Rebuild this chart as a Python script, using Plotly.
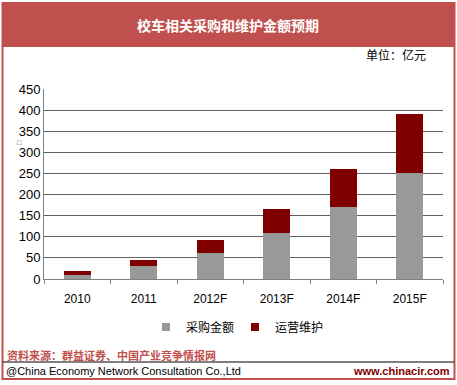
import plotly.graph_objects as go

categories = ["2010", "2011", "2012F", "2013F", "2014F", "2015F"]
purchase = [9, 30, 62, 110, 170, 250]
maintenance = [10, 15, 30, 55, 90, 140]
series_names = ["采购金额", "运营维护"]
series_colors = ["#999999", "#800000"]
y_ticks = [0, 50, 100, 150, 200, 250, 300, 350, 400, 450]

W, H = 457, 385
def px(x):
    return x / W
def py(y):
    return 1 - y / H

RED = "#C0504D"
CJK = "Noto Sans CJK SC"
LAT = "Liberation Sans, Arial"

fig = go.Figure()
for vals, name, col in zip([purchase, maintenance], series_names, series_colors):
    fig.add_trace(go.Bar(x=categories, y=vals, name=name, showlegend=False,
                         marker=dict(color=col, line=dict(width=0)), width=0.4))
# legend entries with small square symbols
for name, col in zip(series_names, series_colors):
    fig.add_trace(go.Scatter(x=[None], y=[None], mode="markers", name=name,
                             marker=dict(symbol="square", size=8, color=col)))

def ann(text, x, y, size, color, family, xanchor="center"):
    return dict(text=text, xref="paper", yref="paper", x=px(x), y=py(y),
                xanchor=xanchor, yanchor="middle", showarrow=False,
                font=dict(family=family, size=size, color=color))

fig.update_layout(
    width=W, height=H,
    barmode="stack",
    margin=dict(l=0, r=0, t=0, b=0),
    paper_bgcolor="white", plot_bgcolor="white",
    font=dict(family=LAT, size=12, color="#000000"),
    xaxis=dict(domain=[px(44), px(443)], automargin=False,
               showline=True, linecolor="#808080", linewidth=1,
               ticks="outside", tickson="boundaries", ticklen=4, tickcolor="#808080",
               tickfont=dict(family=LAT, size=12, color="#000"), showgrid=False,
               ticklabelstandoff=9),
    yaxis=dict(domain=[py(279), py(89)], automargin=False, range=[0, 450],
               tickvals=y_ticks, showline=True, linecolor="#808080", linewidth=1,
               gridcolor="#606060", gridwidth=1, zeroline=False,
               tickfont=dict(family=LAT, size=13, color="#000"), ticks="", ticklen=0),
    showlegend=True,
    legend=dict(orientation="h", x=px(146), y=py(327), xanchor="left", yanchor="middle",
                font=dict(family=CJK, size=12, color="#000"), traceorder="normal",
                entrywidth=44, entrywidthmode="pixels", itemwidth=30,
                bgcolor="rgba(0,0,0,0)"),
    shapes=[
        dict(type="rect", xref="paper", yref="paper", x0=px(2.5), x1=px(454.5), y0=py(379), y1=py(3),
             line=dict(color=RED, width=2), fillcolor="rgba(0,0,0,0)", layer="above"),
        dict(type="rect", xref="paper", yref="paper", x0=px(2.5), x1=px(454.5), y0=py(47), y1=py(3),
             line=dict(width=0), fillcolor=RED),
        dict(type="line", xref="paper", yref="paper", x0=px(3), x1=px(454), y0=py(362), y1=py(362),
             line=dict(color="#000000", width=1)),
    ],
    annotations=[
        ann("<b>校车相关采购和维护金额预期</b>", 228, 25, 14, "white", CJK),
        ann("单位：亿元", 428, 54, 12, "#000", CJK, "right"),
        ann("□", 19, 142, 7, "#333", LAT),
        ann("<b>资料来源：群益证券、中国产业竞争情报网</b>", 5, 355, 11, RED, CJK, "left"),
        ann("@China Economy Network Consultation Co.,Ltd", 4, 371, 11, "#000", LAT, "left"),
        ann("<b>www.chinacir.com</b>", 452, 371, 11, "#800000", LAT, "right"),
    ],
)

fig.write_html("out.html", config={"displayModeBar": False},
               post_script="document.body.style.margin='0';document.body.style.overflow='hidden';")
